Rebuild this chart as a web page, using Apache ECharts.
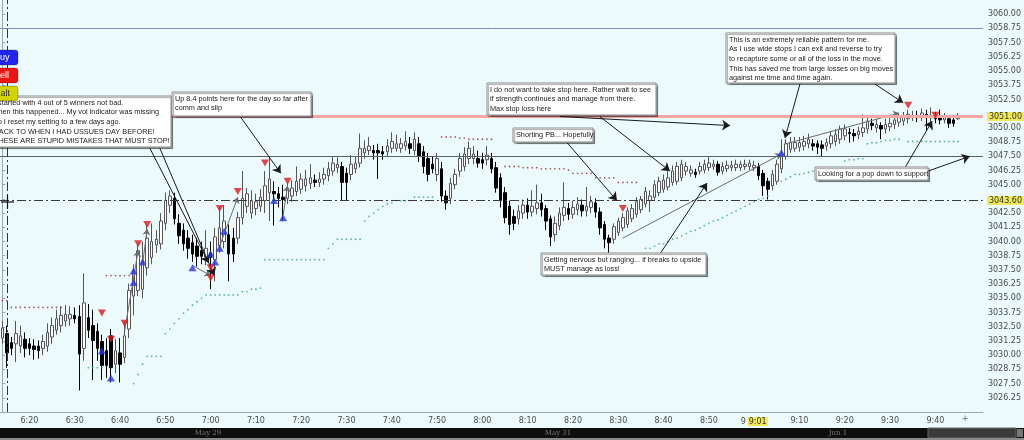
<!DOCTYPE html>
<html><head><meta charset="utf-8">
<script src="https://cdn.jsdelivr.net/npm/echarts@6/dist/echarts.min.js"></script>
<style>
html,body{margin:0;padding:0;background:#ecfafc;overflow:hidden}
#chart{width:1024px;height:440px}
</style></head><body><div id="chart"></div>
<script>
// ---------- categories (1-minute bars) ----------
const startMinute = 6 * 60 + 14;
const categoryCount = 217;
const lastLabelledIndex = 211;
const times = [];
for (let i = 0; i < categoryCount; i++) {
  const m = startMinute + i;
  times.push(Math.floor(m / 60) + ':' + String(m % 60).padStart(2, '0'));
}

// ---------- y axis ticks ----------
const yMin = 3025, yMax = 3061.25, yStep = 1.25;
const hiddenYTicks = [3051.25, 3043.75];

// ---------- candles [open, close, low, high] ----------
const ohlc = [
[3031.5,3032.4,3031.0,3033.0],[3031.9,3030.2,3028.9,3032.6],[3031.1,3030.6,3030.0,3031.6],[3031.0,3031.9,3029.4,3033.0],
[3030.8,3031.7,3030.2,3032.6],[3031.4,3030.6,3029.8,3032.0],[3031.0,3030.6,3030.0,3031.5],[3030.8,3030.5,3029.6,3031.4],
[3030.8,3030.4,3029.7,3031.3],[3030.6,3031.2,3030.0,3031.8],[3030.8,3032.0,3030.3,3032.8],[3031.6,3032.6,3031.0,3033.3],
[3032.2,3033.2,3031.8,3034.0],[3032.6,3033.5,3032.0,3034.3],[3033.0,3033.6,3032.5,3034.4],[3033.2,3033.6,3032.6,3034.3],
[3033.5,3033.2,3032.8,3034.2],[3033.4,3030.1,3026.9,3034.4],[3030.6,3034.6,3029.5,3037.2],[3033.3,3032.2,3031.5,3034.5],
[3032.6,3031.3,3027.8,3034.0],[3032.1,3030.6,3029.5,3032.8],[3031.2,3029.1,3027.8,3031.8],[3030.4,3029.1,3028.0,3031.5],
[3031.7,3028.9,3027.6,3032.3],[3029.2,3030.4,3028.4,3031.4],[3030.2,3029.2,3027.6,3031.5],[3029.8,3031.7,3029.3,3033.0],
[3032.3,3035.7,3031.5,3036.3],[3035.2,3037.4,3033.5,3038.0],[3035.7,3039.2,3035.2,3039.8],[3035.8,3038.3,3035.0,3040.0],
[3037.7,3040.3,3037.0,3041.5],[3038.6,3040.0,3038.0,3041.6],[3039.7,3040.2,3039.0,3041.0],[3039.8,3041.8,3039.3,3042.5],
[3041.6,3043.6,3041.0,3044.3],[3043.2,3044.0,3042.5,3044.5],[3043.8,3042.0,3041.5,3044.3],[3041.6,3040.5,3039.8,3042.4],
[3041.0,3039.8,3039.2,3041.6],[3040.3,3039.4,3038.5,3041.0],[3039.9,3038.9,3038.2,3040.6],[3039.6,3038.7,3037.8,3040.3],
[3039.2,3038.7,3038.0,3040.0],[3038.6,3039.4,3037.9,3041.0],[3039.0,3038.6,3035.8,3040.0],[3038.4,3040.4,3036.5,3041.2],
[3039.6,3041.2,3039.0,3043.0],[3040.0,3041.8,3039.4,3043.2],[3040.6,3038.9,3036.5,3041.5],[3040.3,3038.9,3038.2,3041.2],
[3040.3,3042.1,3039.8,3042.6],[3042.1,3043.8,3041.5,3046.2],[3043.1,3044.2,3042.5,3044.7],[3042.5,3043.6,3042.0,3044.5],
[3042.9,3043.5,3042.3,3044.2],[3043.1,3043.9,3042.6,3044.6],[3043.6,3044.9,3042.5,3046.2],[3044.3,3045.5,3041.8,3047.4],
[3044.4,3044.2,3041.4,3045.3],[3044.2,3043.8,3043.0,3044.8],[3043.9,3043.7,3041.8,3045.0],[3043.8,3044.6,3043.3,3045.2],
[3044.0,3044.7,3043.5,3045.4],[3044.4,3045.3,3044.0,3046.6],[3044.6,3045.5,3044.2,3046.0],[3044.9,3045.5,3044.4,3046.3],
[3045.1,3045.6,3044.6,3046.8],[3045.4,3045.2,3044.8,3045.9],[3045.2,3045.5,3044.8,3046.1],[3045.5,3045.9,3045.0,3046.5],
[3045.8,3046.4,3045.3,3047.0],[3046.2,3046.9,3045.8,3047.5],[3046.5,3046.8,3046.0,3047.4],[3046.6,3045.2,3043.6,3047.0],
[3046.0,3045.2,3043.6,3046.5],[3045.9,3046.8,3045.4,3047.6],[3046.4,3046.9,3046.0,3047.5],[3046.9,3048.2,3046.5,3049.5],
[3047.8,3048.2,3047.3,3048.9],[3048.0,3048.4,3047.6,3049.2],[3048.0,3047.8,3047.2,3048.5],[3048.0,3047.8,3045.5,3048.6],
[3047.9,3047.7,3047.2,3048.4],[3047.9,3048.4,3047.5,3049.0],[3048.2,3048.8,3047.8,3049.6],[3048.2,3048.6,3047.9,3049.4],
[3048.2,3048.6,3047.8,3049.1],[3048.4,3048.8,3048.0,3049.7],[3048.6,3048.2,3047.7,3049.2],[3048.0,3049.0,3047.6,3049.6],
[3048.6,3047.5,3047.0,3049.2],[3047.9,3046.6,3046.0,3048.4],[3047.3,3045.9,3045.3,3047.8],[3046.8,3046.4,3046.0,3047.5],
[3045.9,3047.3,3045.3,3047.8],[3046.4,3044.0,3043.5,3047.0],[3044.0,3043.4,3042.8,3044.5],[3043.8,3045.1,3043.3,3045.6],
[3045.0,3045.9,3044.6,3046.4],[3046.2,3047.3,3045.7,3047.8],[3046.6,3047.7,3046.2,3048.3],[3047.3,3048.2,3046.8,3048.8],
[3047.3,3047.7,3046.8,3048.4],[3047.3,3046.9,3046.5,3048.0],[3047.2,3046.9,3046.4,3047.8],[3047.2,3047.6,3046.7,3048.4],
[3047.3,3046.4,3046.0,3047.8],[3046.5,3044.7,3044.3,3047.0],[3045.6,3043.6,3043.0,3046.0],[3044.3,3042.1,3041.6,3044.8],
[3043.1,3041.5,3040.6,3043.6],[3042.2,3041.6,3041.0,3042.8],[3042.0,3042.7,3041.5,3043.2],[3042.5,3043.2,3042.0,3043.7],
[3043.2,3042.6,3042.0,3043.8],[3042.6,3043.1,3042.2,3044.5],[3042.9,3043.4,3042.4,3045.0],[3043.4,3042.8,3042.2,3044.2],
[3042.9,3041.8,3041.0,3043.2],[3042.0,3040.4,3039.6,3042.3],[3040.6,3041.6,3040.0,3042.2],[3041.4,3042.5,3041.0,3043.0],
[3042.3,3043.0,3041.8,3045.2],[3042.9,3042.4,3041.9,3043.4],[3042.4,3043.0,3042.0,3043.6],[3042.8,3043.3,3042.3,3043.9],
[3043.2,3042.7,3042.2,3043.7],[3042.7,3043.1,3042.2,3044.8],[3043.0,3043.5,3042.5,3044.0],[3043.4,3042.6,3042.1,3043.8],
[3042.6,3041.2,3040.6,3043.0],[3041.5,3040.2,3039.4,3041.8],[3040.3,3039.9,3039.0,3040.6],[3040.2,3041.3,3039.8,3041.6],
[3040.8,3041.8,3040.5,3042.1],[3041.2,3042.1,3040.9,3042.5],[3041.5,3042.7,3041.2,3043.0],[3042.0,3042.9,3041.7,3043.3],
[3042.4,3043.5,3042.1,3043.9],[3042.8,3043.7,3042.5,3044.0],[3043.3,3044.4,3043.0,3044.8],[3043.6,3044.0,3042.6,3044.5],
[3043.9,3045.0,3043.6,3045.4],[3044.3,3045.3,3044.0,3045.7],[3044.6,3045.4,3044.3,3045.9],[3044.8,3045.6,3044.5,3046.2],
[3045.2,3046.2,3044.9,3046.7],[3045.3,3046.6,3045.0,3047.0],[3045.6,3046.8,3045.3,3047.2],[3046.2,3046.6,3045.8,3047.0],
[3046.0,3046.3,3045.7,3046.7],[3046.1,3045.9,3045.6,3046.4],[3046.2,3046.6,3045.9,3047.0],[3046.3,3046.8,3046.0,3047.2],
[3046.5,3046.9,3046.2,3047.5],[3046.6,3046.8,3046.3,3047.2],[3046.8,3046.1,3045.8,3047.1],[3046.2,3046.6,3045.9,3047.0],
[3046.4,3046.7,3046.1,3047.1],[3046.5,3046.7,3046.2,3047.1],[3046.5,3046.8,3046.2,3047.2],[3046.5,3046.8,3046.2,3047.1],
[3046.6,3046.8,3046.3,3047.2],[3046.6,3046.9,3046.3,3047.2],[3046.5,3046.7,3046.2,3047.1],[3046.6,3045.8,3045.4,3046.9],
[3046.0,3044.9,3044.0,3046.3],[3045.3,3044.6,3043.7,3045.6],[3044.9,3045.9,3044.5,3046.3],[3045.3,3046.8,3045.0,3047.2],
[3046.4,3047.7,3046.0,3049.0],[3047.5,3048.6,3047.2,3049.0],[3048.1,3048.7,3047.8,3049.2],[3048.2,3048.7,3047.9,3049.2],
[3048.3,3048.7,3047.9,3049.2],[3048.4,3048.8,3048.0,3049.3],[3048.6,3049.0,3048.2,3049.5],[3048.6,3048.4,3048.0,3049.0],
[3048.6,3048.3,3047.7,3048.9],[3048.5,3048.2,3047.5,3048.9],[3048.4,3048.7,3048.0,3049.1],[3048.6,3049.3,3048.2,3049.7],
[3048.8,3049.4,3048.4,3049.9],[3049.0,3049.9,3048.6,3050.2],[3049.3,3049.9,3048.9,3050.3],[3049.6,3049.5,3048.7,3050.0],
[3049.5,3049.3,3048.8,3049.9],[3049.4,3049.7,3049.0,3050.1],[3049.6,3050.0,3049.2,3051.2],[3049.9,3050.6,3049.5,3050.9],
[3050.4,3050.2,3049.8,3050.8],[3050.0,3050.3,3049.6,3050.8],[3050.2,3049.9,3049.0,3050.5],[3049.9,3050.3,3049.5,3050.8],
[3050.1,3050.4,3049.7,3050.9],[3050.3,3050.7,3049.9,3051.1],[3050.5,3050.9,3050.1,3051.3],[3050.6,3051.0,3050.2,3051.4],
[3050.8,3051.2,3050.4,3051.6],[3050.9,3051.1,3050.6,3051.5],[3051.1,3050.9,3050.5,3051.5],[3051.0,3051.3,3050.6,3051.7],
[3051.2,3050.9,3049.8,3051.6],[3050.9,3051.1,3050.5,3051.8],[3051.1,3050.8,3050.4,3051.4],[3050.9,3050.7,3050.3,3051.6],
[3050.7,3050.9,3050.4,3051.3],[3050.8,3050.4,3050.0,3051.1],[3050.7,3050.4,3050.1,3051.0],[3050.8,3051.0,3050.7,3051.3]
];

// ---------- trailing stop dots [barIndex, price] ----------
const stopAbove = [
[0,3034.8],[1,3034.8],[2,3034.2],[3,3034.2],[4,3034.2],[5,3034.2],[6,3034.2],[7,3034.2],[8,3034.2],[9,3034.2],[10,3034.2],[11,3034.2],[12,3034.2],[13,3034.2],
[23,3037.0],[24,3037.0],[25,3037.0],[26,3037.0],[27,3037.0],[28,3037.0],
[97,3049.2],[98,3049.2],[99,3049.2],[100,3049.2],[101,3049.1],[102,3049.1],[103,3049.0],[104,3049.0],[105,3049.0],[106,3049.0],[107,3049.0],[108,3049.0],
[111,3046.6],[112,3046.6],[113,3046.6],[114,3046.6],[115,3046.5],[116,3046.5],[117,3046.5],[118,3046.5],[119,3046.4],[120,3046.4],[121,3046.4],[122,3046.4],[123,3046.4],[124,3046.4],[125,3046.3],
[126,3046.0],[127,3046.0],[128,3046.0],[129,3046.0],[130,3046.0],
[131,3045.6],[132,3045.6],[133,3045.6],[134,3045.6],[135,3045.6],[136,3045.2],[137,3045.2],[138,3045.2],[139,3045.2],[140,3045.2]
];
const stopBelow = [
[19,3028.9],[20,3028.9],[21,3028.9],[22,3028.9],
[29,3027.5],[30,3028.3],[31,3029.2],[32,3029.9],[33,3029.9],[34,3029.9],[35,3029.9],
[36,3031.9],[37,3032.3],[38,3032.8],[39,3033.2],[40,3033.7],[41,3034.0],[42,3034.4],[43,3034.7],[44,3035.0],[45,3035.3],
[46,3035.3],[47,3035.3],[48,3035.3],[49,3035.3],[50,3035.3],[51,3035.3],[52,3035.3],[53,3035.6],[54,3035.6],[55,3035.8],[56,3035.8],[57,3035.9],
[58,3038.4],[59,3038.4],[60,3038.4],[61,3038.4],[62,3038.4],[63,3038.4],[64,3038.4],[65,3038.4],[66,3038.4],[67,3038.4],[68,3038.4],[69,3038.4],[70,3038.4],[71,3038.4],
[72,3039.4],[73,3039.8],[74,3040.2],[75,3040.2],[76,3040.2],[77,3040.2],[78,3040.2],[79,3040.2],
[80,3041.8],[81,3042.2],[82,3042.5],[83,3042.8],[84,3043.1],[85,3043.3],[86,3043.4],
[87,3043.6],[88,3043.6],[89,3043.6],[90,3043.6],[91,3043.9],[92,3043.9],[93,3043.9],[94,3043.9],[95,3043.9],
[142,3039.4],[143,3039.4],[144,3039.6],[145,3039.8],[146,3039.8],[147,3040.0],[148,3040.2],[149,3040.3],[150,3040.5],[151,3040.7],
[152,3040.9],[153,3041.0],[154,3041.2],[155,3041.4],[156,3041.6],[157,3041.8],[158,3041.9],[159,3042.1],[160,3042.3],[161,3042.5],
[162,3042.7],[163,3042.9],[164,3043.1],[165,3043.3],[166,3043.5],[167,3043.7],[168,3043.8],[169,3044.0],
[172,3045.3],[173,3045.5],[174,3045.7],[175,3045.9],[176,3045.9],[177,3046.0],[178,3046.1],[179,3046.2],
[186,3047.1],[187,3047.2],[188,3047.2],[189,3047.3],[190,3047.3],
[191,3048.6],[192,3048.7],[193,3048.7],[194,3048.8],[195,3048.9],[196,3048.9],[197,3049.0],[198,3049.0],
[200,3048.8],[201,3048.8],[202,3048.8],[203,3048.8],[204,3048.8],[205,3048.8],[206,3048.8],[207,3048.8],[208,3048.8],[209,3048.8],[210,3048.8],[211,3048.8]
];

// ---------- signals [barIndex, price] ----------
const sellSignals = [[22,3033.7],[24,3031.4],[27,3032.8],[30,3039.8],[32,3041.5],[46,3037.7],[46,3036.8],[48,3042.9],[52,3044.4],[58,3046.9],[63,3045.3],[137,3042.9],[200,3052.0],[206,3051.1]];
const buySignals = [[22,3030.4],[24,3028.0],[29,3037.4],[29,3036.4],[31,3038.2],[42,3037.7],[46,3038.9],[47,3038.2],[48,3039.4],[49,3040.9],[60,3043.6],[62,3042.1],[172,3047.8]];

// ---------- trade links and note arrows [x0, p0, x1, p1] (bar index, price) ----------
const tradeLinks = [[27,3032.1,30,3039.2],[31,3038.1,32,3041.1],[42,3037.9,46,3037.0],[48,3039.6,52,3043.9],[62,3042.3,63,3044.9],[137,3040.3,172,3047.7],[173,3048.6,198,3051.3]];
const noteArrows = [
[32.6,3048.2,45.6,3038.1],[34.8,3048.2,46.8,3037.0],[52.7,3050.9,61.5,3046.0],
[131.9,3051.0,147.4,3046.2],[123.1,3051.0,160.7,3050.2],[124.7,3048.7,135.7,3043.6],
[176.1,3053.85,172.8,3049.1],[192.7,3053.85,198.9,3052.2],[145.2,3038.9,155.6,3045.15],
[199.3,3046.5,205.3,3050.6],[204.4,3046.2,213.6,3047.5]
];

// ---------- price levels ----------
const levelBlue = 3058.75, levelPink = 3051.0, levelGray = 3047.5, levelDash = 3043.6;
const lastPriceLabel = '3051.00', levelDashLabel = '3043.60';

// ---------- notes ----------
const noteTexts = [
 ['I started with 4 out of 5 winners not bad.','Then this happened... My vol indicator was missing','so I reset my setting to a few days ago.','BACK TO WHEN I HAD USSUES DAY BEFORE!','THESE ARE STUPID MISTAKES THAT MUST STOP!'],
 ['Up 8.4 points here for the day so far after','comm and slip'],
 ['I do not want to take stop here. Rather wait to see','if strength continues and manage from there.','Max stop loss here'],
 ['Shorting PB... Hopefully'],
 ['This is an extremely reliable pattern for me.','As I use wide stops I can exit and reverse to try','to recapture some or all of the loss in the move.','This has saved me from large losses on big moves','against me time and time again.'],
 ['Getting nervous but ranging... if breaks to upside','MUST manage as loss!'],
 ['Looking for a pop down to support']
];
const noteBoxes = [[-6,96,177,51,-6],[172,92,139,24,175],[487,83,169,32,490],[513,128,80,14,516],[726,33,169,50,729],[541,253,165,22,544],[815,167,113,13,818]];

const FONT = '"Liberation Sans", Arial, sans-serif';
const graphics = [];
noteTexts.forEach((lines, k) => {
  const b = noteBoxes[k];
  graphics.push({type:'rect', z:100, shape:{x:b[0], y:b[1], width:b[2], height:b[3]},
    style:{fill:'#ffffff', stroke:'#8c8c8c', lineWidth:1, shadowColor:'rgba(0,0,0,0.35)', shadowOffsetX:1.5, shadowOffsetY:1.5, shadowBlur:1}});
  graphics.push({type:'text', z:101, x:b[4], y:b[1] + 2,
    style:{text:lines.join('\n'), fill:'#222', font:'7.3px ' + FONT, lineHeight:9.6, verticalAlign:'top', textVerticalAlign:'top'}});
});
// left-side order buttons (partly off screen)
[['Buy','#2126ee','#fff',50],['Sell','#ee1414','#fff',68],['Halt','#d4d400','#333',86]].forEach(b => {
  graphics.push({type:'rect', z:100, shape:{x:-30, y:b[3], width:48, height:15, r:3}, style:{fill:b[1], stroke:'rgba(0,0,0,0.25)'}});
  graphics.push({type:'text', z:101, x:-6, y:b[3] + 3, style:{text:b[0], fill:b[2], font:'9px ' + FONT, verticalAlign:'top'}});
});
// crosshair cursor
graphics.push({type:'line', z:100, shape:{x1:1, y1:202, x2:14, y2:202}, style:{stroke:'#111', lineWidth:1.2}});
graphics.push({type:'line', z:100, shape:{x1:7.5, y1:195, x2:7.5, y2:209}, style:{stroke:'#111', lineWidth:1.2}});
// bottom date bar
graphics.push({type:'rect', z:100, shape:{x:0, y:428, width:1024, height:10}, style:{fill:'#0e0e0e'}});
graphics.push({type:'rect', z:100, shape:{x:928, y:428, width:88, height:10}, style:{fill:'#3a3a3a', stroke:'#666'}});
graphics.push({type:'rect', z:100, shape:{x:1017, y:429, width:6, height:8}, style:{fill:'#777'}});
graphics.push({type:'rect', z:100, shape:{x:0, y:438, width:1024, height:2}, style:{fill:'#8a8a8a'}});
[['May 29',208],['May 31',558],['Jun 1',838]].forEach(d => {
  graphics.push({type:'text', z:101, x:d[1], y:433, style:{text:d[0], fill:'#7a7a7a', font:'7px "DejaVu Serif", serif', align:'center', verticalAlign:'middle', textAlign:'center', textVerticalAlign:'middle'}});
});
// small end-of-data marker on the time axis
graphics.push({type:'text', z:101, x:965, y:419, style:{text:'+', fill:'#666', font:'8px "DejaVu Sans"', align:'center', verticalAlign:'middle'}});

const toLines = arr => arr.map(a => ({coords:[[a[0], a[1]], [a[2], a[3]]]}));
const hiddenTick = v => hiddenYTicks.some(h => Math.abs(h - v) < 1e-6);
const yellowLabel = txt => ({show:true, position:'end', formatter:txt, color:'#333', backgroundColor:'#f1e85a', padding:[1,2,0,2], fontSize:8, fontFamily:'DejaVu Sans', distance:4});

const option = {
  backgroundColor:'#ecfafc',
  animation:false,
  grid:{left:0, right:41, top:-1, bottom:28, containLabel:false},
  xAxis:[
    {type:'category', data:times, boundaryGap:true,
     axisLine:{show:true, lineStyle:{color:'#9aa8ad'}}, axisTick:{show:false}, splitLine:{show:false},
     axisLabel:{interval:(idx, val) => val.endsWith('0') && idx <= lastLabelledIndex, color:'#4a4a4a', fontSize:8, fontFamily:'DejaVu Sans', margin:5,
       formatter:v => v === '9:00' ? '{a|9}{b|9:01}' : v,
       rich:{a:{color:'#4a4a4a', fontSize:8, fontFamily:'DejaVu Sans', padding:[0,2,0,0]}, b:{color:'#333', fontSize:8, fontFamily:'DejaVu Sans', backgroundColor:'#f1e85a', padding:[1,1,0,1]}}}},
    {type:'value', min:-0.5, max:categoryCount - 0.5, show:false}
  ],
  yAxis:{type:'value', position:'right', min:yMin, max:yMax, interval:yStep, scale:false,
    axisLine:{show:true, lineStyle:{color:'#9aa8ad'}}, axisTick:{show:true, length:3, lineStyle:{color:'#9aa8ad'}}, splitLine:{show:false},
    axisLabel:{showMinLabel:false, showMaxLabel:false, color:'#4a4a4a', fontSize:8, fontFamily:'DejaVu Sans', margin:5,
      formatter:v => hiddenTick(v) ? '' : v.toFixed(2)}},
  series:[
    {type:'candlestick', data:ohlc, barWidth:3,
     itemStyle:{color:'#ffffff', color0:'#000000', borderColor:'#555555', borderColor0:'#000000', borderWidth:1},
     markLine:{silent:true, symbol:'none', animation:false,
       data:[
         {yAxis:levelBlue, lineStyle:{color:'#7d8dbd', width:1, type:'solid'}, label:{show:false}},
         {yAxis:levelPink, lineStyle:{color:'#f5a6a6', width:3, type:'solid'}, label:yellowLabel(lastPriceLabel)},
         {yAxis:levelGray, lineStyle:{color:'#56636b', width:1, type:'solid'}, label:{show:false}},
         {yAxis:levelDash, lineStyle:{color:'#3a3a3a', width:1, type:[9,3,2,3]}, label:yellowLabel(levelDashLabel)},
         {xAxis:times[1], lineStyle:{color:'#333', width:1, type:[9,3,2,3]}, label:{show:false}}
       ]}},
    {type:'scatter', data:stopAbove, symbol:'circle', symbolSize:1.8, itemStyle:{color:'#8e3b3b'}, silent:true, z:3},
    {type:'scatter', data:stopBelow, symbol:'circle', symbolSize:1.8, itemStyle:{color:'#3ea57c'}, silent:true, z:3},
    {type:'lines', coordinateSystem:'cartesian2d', xAxisIndex:1, yAxisIndex:0, data:toLines(tradeLinks), silent:true, z:4,
     symbol:['none','arrow'], symbolSize:6, lineStyle:{color:'#6d6d6d', width:1, opacity:1}},
    {type:'lines', coordinateSystem:'cartesian2d', xAxisIndex:1, yAxisIndex:0, data:toLines(noteArrows), silent:true, z:5,
     symbol:['none','arrow'], symbolSize:8, lineStyle:{color:'#1a1a1a', width:1, opacity:1}},
    {type:'scatter', data:sellSignals, symbol:'triangle', symbolRotate:180, symbolSize:[8,7], itemStyle:{color:'#e01818'}, silent:true, z:6},
    {type:'scatter', data:buySignals, symbol:'triangle', symbolSize:[8,7], itemStyle:{color:'#2a36e6'}, silent:true, z:6}
  ],
  graphic:graphics
};

const chart = echarts.init(document.getElementById('chart'), null, {renderer:'canvas', width:1024, height:440});
chart.setOption(option);
</script></body></html>
